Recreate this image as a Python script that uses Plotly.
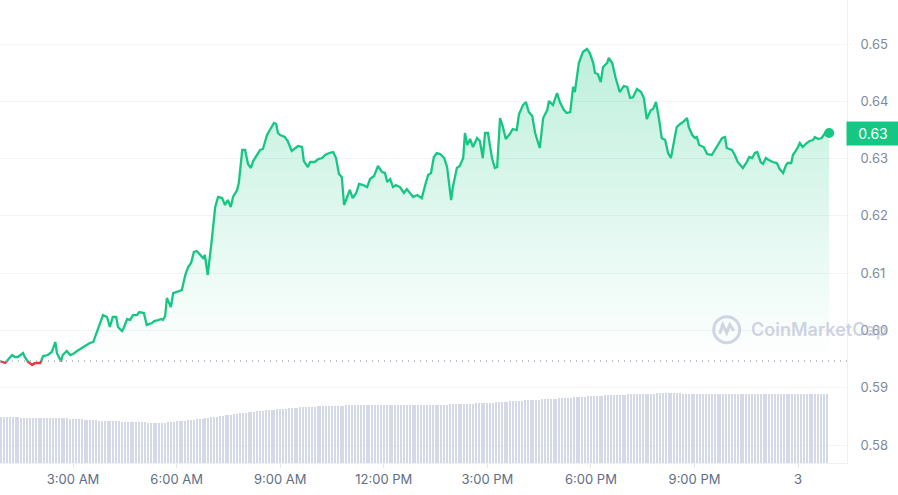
import pandas as pd
import plotly.graph_objects as go

day = pd.Timestamp("2024-04-02")

# price samples: minutes after midnight of day 2, price in USD
minutes = [
    53, 62, 65, 74, 79, 84, 93, 96, 102, 109,
    114, 123, 128, 136, 143, 149, 152, 159, 162, 169,
    175, 180, 187, 196, 201, 209, 215, 223, 232, 239,
    244, 249, 255, 258, 265, 268, 274, 279, 284, 291,
    295, 303, 308, 317, 321, 328, 333, 336, 340, 343,
    350, 354, 362, 369, 375, 380, 385, 390, 395, 401,
    406, 409, 414, 421, 427, 432, 439, 444, 449, 454,
    458, 465, 468, 474, 479, 484, 489, 493, 500, 505,
    510, 517, 524, 529, 533, 536,
    540, 548, 553, 560, 571, 578, 581, 588, 592, 600,
    606, 613, 618, 625, 632, 637, 642, 647, 651, 656,
    661, 666, 672, 677, 684, 691, 696, 703, 710, 717,
    722, 726, 731, 736, 741, 748, 755, 760, 766, 771,
    778, 786, 792, 797, 802, 807, 812, 818, 825, 830,
    837, 840, 847, 852, 858, 861, 865, 870, 875, 882,
    887, 892, 896, 901, 908, 913, 917, 922, 927, 932,
    939, 944, 951, 955, 962, 967, 972, 978, 983, 991,
    997, 1004, 1007, 1014, 1021, 1026, 1033, 1038, 1044, 1049,
    1052, 1056, 1059, 1066, 1073, 1078, 1084, 1087, 1092, 1097,
    1101, 1108, 1111, 1117, 1123, 1130, 1137, 1143, 1148, 1153,
    1160, 1167, 1172, 1177, 1184, 1188, 1193, 1198, 1203, 1209,
    1214, 1219, 1223, 1229, 1235, 1240, 1247, 1250, 1256, 1261,
    1264, 1268, 1276, 1282, 1290, 1296, 1301, 1308, 1313, 1316,
    1325, 1330, 1335, 1344, 1351, 1355, 1360, 1365, 1369, 1375,
    1379, 1384, 1389, 1396, 1403, 1408, 1414, 1419, 1422, 1428,
    1431, 1438, 1443, 1448, 1455, 1460, 1466, 1469, 1475, 1481, 1487, 1494,
]
price = [
    .59468, .59433, .59468, .59572, .59538, .59538, .59607, .59538, .5945, .59398,
    .59433, .59433, .59555, .59572, .59625, .59799, .59607, .5946, .59572, .59642,
    .59572, .5959, .59642, .59695, .5973, .59782, .59799, .60009, .6027, .60236,
    .60061, .60236, .60236, .60061, .59991, .60044, .60201, .60183, .6027, .6027,
    .60323, .60305, .60096, .60131, .60166, .60183, .60201, .60183, .60253, .60567,
    .6041, .60654, .60689, .60707, .60969, .61108, .61178, .6137, .61387, .61318,
    .61265, .61318, .60969, .61579, .62155, .6233, .62312, .6219, .62277, .62155,
    .6233, .62452, .62574, .6315, .6315, .62906, .62836, .62958, .63063, .6315,
    .63168, .63412, .63534, .63621, .63604, .63447,
    .63412, .63377, .63307, .63133, .6322, .63202, .62958, .62853, .62941, .62941,
    .62993, .6301, .63063, .63098, .63115, .6301, .62731, .62679, .6219, .6233,
    .62452, .62312, .624, .62557, .62539, .62504, .62644, .62696, .62871, .62766,
    .62749, .62592, .62644, .62504, .62539, .62504, .624, .62469, .624, .6233,
    .62365, .62312, .62539, .62714, .62749, .63028, .63098, .6308, .6301, .62853,
    .62277, .62504, .62836, .62871, .6301, .63447, .63237, .63342, .63202, .6336,
    .63307, .6301, .63447, .63447, .6301, .62836, .62853, .63709, .63551, .63342,
    .63429, .63517, .63499, .63778, .63935, .63988, .63813, .63743, .63447, .63185,
    .63709, .63848, .64005, .63935, .64145, .63988, .63848, .63796, .63813, .6425,
    .64162, .64424, .64668, .6486, .64913, .64843, .64668, .64494, .64476, .64337,
    .64599, .64668, .64756, .64668, .64407, .64162, .64267, .6425, .64058, .6407,
    .64215, .64162, .64058, .63691, .63848, .63866, .63988, .63709, .6336, .63325,
    .63098, .6301, .63237, .63551, .63604, .63639, .63709, .63551, .63412, .6336,
    .63377, .63237, .63202, .6308, .63063, .63168, .63237, .6336, .63377, .63185,
    .6315, .63063, .62941, .62836, .62941, .63028, .6301, .63098, .63115, .62941,
    .62906, .6301, .62976, .62941, .62923, .62818, .62749, .62888, .62923, .62923,
    .63063, .63168, .63272, .63202, .63272, .63307, .63325, .63377, .63342, .6336, .63447, .63447,
]
open_price = 0.5947

# 24h volume bars, one every 5 minutes starting 00:55 (arbitrary units)
volume = [
    457, 457, 457, 457, 457, 456, 456, 455, 455, 455, 455, 455,
    454, 454, 453, 453, 452, 452, 451, 450, 449, 448, 447, 446,
    444, 442, 440, 438, 436, 434, 432, 430, 428, 426, 424, 422,
    420, 419, 418, 418, 417, 416, 415, 414, 413, 412, 411, 410,
    408, 407, 406, 405, 404, 404, 403, 403, 403, 405, 408, 412,
    415, 418, 420, 422, 425, 428, 430, 433, 436, 440, 444, 448,
    452, 456, 460, 464, 468, 472, 476, 480, 484, 488, 492, 496,
    500, 504, 508, 512, 515, 518, 522, 525, 528, 531, 533, 535,
    538, 540, 543, 545, 548, 550, 552, 554, 556, 558, 560, 562,
    564, 565, 566, 567, 568, 569, 570, 571, 572, 573, 574, 575,
    576, 576, 577, 577, 577, 577, 577, 577, 577, 577, 577, 577,
    577, 577, 577, 577, 577, 577, 577, 577, 577, 577, 577, 577,
    577, 577, 578, 578, 579, 579, 580, 581, 582, 583, 584, 585,
    587, 588, 589, 590, 591, 592, 593, 594, 595, 596, 596, 597,
    599, 601, 603, 605, 607, 609, 611, 613, 615, 617, 619, 621,
    623, 625, 627, 628, 630, 632, 633, 635, 636, 637, 638, 640,
    642, 644, 646, 648, 650, 652, 654, 656, 658, 660, 662, 664,
    666, 668, 670, 672, 674, 675, 677, 678, 680, 681, 682, 683,
    684, 685, 686, 687, 688, 689, 690, 691, 692, 693, 694, 695,
    696, 697, 697, 697, 697, 697, 697, 697, 697, 695, 693, 690,
    688, 688, 690, 692, 692, 690, 688, 687, 687, 687, 687, 687,
    687, 687, 687, 687, 687, 687, 687, 687, 687, 687, 687, 687,
    687, 687, 687, 687, 687, 687, 687, 687, 687, 687, 687, 687,
    687, 687, 687, 687, 687, 687, 687, 687, 687, 687, 687, 687,
]

tick_hours = [3, 6, 9, 12, 15, 18, 21, 24]
tick_text = ["3:00 AM", "6:00 AM", "9:00 AM", "12:00 PM", "3:00 PM", "6:00 PM", "9:00 PM", "3"]
price_ticks = [0.58, 0.59, 0.60, 0.61, 0.62, 0.63, 0.64, 0.65]

GREEN = "#16c784"
RED = "#ea3943"
y_lo, y_hi = 0.57688, 0.65768
split = (open_price - y_lo) / (y_hi - y_lo)

times = [day + pd.Timedelta(minutes=m) for m in minutes]
bar_times = pd.date_range(day + pd.Timedelta(minutes=55), periods=len(volume), freq="5min")

fig = go.Figure()

fig.add_trace(go.Bar(x=bar_times, y=volume, yaxis="y2", width=110000,
                     marker=dict(color="#d3d9e7", line=dict(width=0)), hoverinfo="skip"))

# green part above the open price, with gradient fill down to it
fig.add_trace(go.Scatter(x=times, y=price, yaxis="y3", mode="lines",
                         line=dict(color=GREEN, width=2.3), fill="tozeroy",
                         fillgradient=dict(type="vertical", start=open_price, stop=max(price),
                                           colorscale=[[0, "rgba(22,199,132,0)"],
                                                       [1, "rgba(22,199,132,0.28)"]])))
# red part below the open price
fig.add_trace(go.Scatter(x=times, y=price, yaxis="y4", mode="lines",
                         line=dict(color=RED, width=2.3)))
fig.add_trace(go.Scatter(x=[times[-1]], y=[price[-1]], yaxis="y3", mode="markers",
                         marker=dict(color=GREEN, size=10), cliponaxis=False))

fig.add_shape(type="line", xref="paper", x0=0, x1=1, yref="y", y0=open_price, y1=open_price,
              line=dict(color="#a9b0c0", width=1.5, dash="1px,5px"), layer="above")

# watermark
fig.add_shape(type="circle", xref="paper", yref="paper", xsizemode="pixel", ysizemode="pixel",
              xanchor=0.858, yanchor=0.288, x0=-13, x1=13, y0=-13, y1=13,
              line=dict(color="rgba(180,187,210,0.6)", width=3), layer="above")
fig.add_shape(type="path", xref="paper", yref="paper", xsizemode="pixel", ysizemode="pixel",
              xanchor=0.858, yanchor=0.288,
              path="M -7 -4 L -4 5 L 0 -3 L 3 5 L 7 -1",
              line=dict(color="rgba(180,187,210,0.6)", width=3), layer="above")
fig.add_annotation(x=0.884, y=0.288, xref="paper", yref="paper", xanchor="left", yanchor="middle",
                   text="CoinMarketCap", showarrow=False,
                   font=dict(family="Inter", size=18, color="rgba(175,183,208,0.6)", weight=600))

# current price tag
fig.add_annotation(x=1, xref="paper", y=price[-1], yref="y", xanchor="left", xshift=-1,
                   text=f"{price[-1]:.2f}", showarrow=False, bgcolor=GREEN, borderpad=4,
                   width=44, height=15, font=dict(family="Inter", size=14, color="white"))

fig.update_layout(
    width=898, height=495,
    margin=dict(l=0, r=51, t=0, b=32),
    paper_bgcolor="white", plot_bgcolor="rgba(0,0,0,0)",
    showlegend=False, bargap=0,
    font=dict(family="Inter"),
    xaxis=dict(type="date", domain=[0, 1], anchor="y",
               range=[day + pd.Timedelta(minutes=53), day + pd.Timedelta(minutes=1525)],
               tickvals=[day + pd.Timedelta(hours=h) for h in tick_hours], ticktext=tick_text,
               showgrid=False, showline=True, linecolor="#eff2f5", linewidth=1,
               ticks="outside", ticklen=4, tickcolor="#e3e6ec",
               tickfont=dict(size=13, color="#616e85"), zeroline=False),
    yaxis=dict(range=[y_lo, y_hi], side="right", domain=[0, 1],
               tickvals=price_ticks, ticktext=[f"{v:.2f}" for v in price_ticks],
               showgrid=True, gridcolor="#f3f4f7", gridwidth=1, zeroline=False,
               showline=True, linecolor="#eff2f5", ticks="", ticklabelstandoff=10,
               tickfont=dict(size=13, color="#808a9d")),
    yaxis2=dict(overlaying="y", range=[0, 4630], visible=False),
    yaxis3=dict(domain=[split, 1], range=[open_price, y_hi], anchor="x", visible=False),
    yaxis4=dict(domain=[0, split], range=[y_lo, open_price], anchor="x", visible=False),
)

fig.write_html("out.html", config={"displayModeBar": False},
               post_script="document.body.style.margin = '0';")
